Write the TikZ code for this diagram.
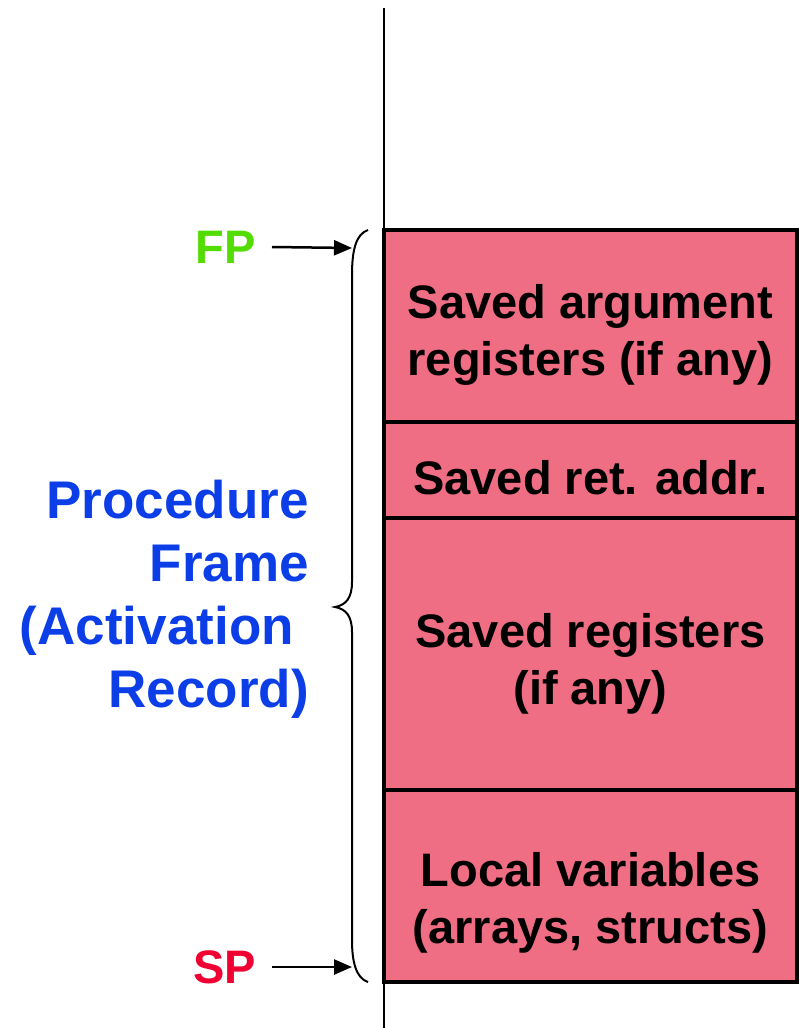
\documentclass[tikz,border=0pt]{standalone}
\usepackage{fontspec}
\setmainfont{Liberation Sans}
\usetikzlibrary{arrows.meta}
\definecolor{cellpink}{RGB}{240,110,132}
\definecolor{fpgreen}{RGB}{82,220,0}
\definecolor{spred}{RGB}{240,0,50}
\definecolor{lblblue}{RGB}{12,62,232}
\tikzset{
  cell/.style={draw=black, line width=4.5pt, fill=cellpink, minimum width=413pt, inner sep=0pt},
  celltext/.style={inner sep=0pt, align=center, font=\fontsize{47}{57}\selectfont\bfseries},
  ptr/.style={font=\fontsize{47}{57}\selectfont\bfseries, anchor=east, inner sep=0pt},
  ptrarrow/.style={line width=2.5pt, -{Triangle[length=18pt,width=15pt]}},
}
\begin{document}
\begin{tikzpicture}[x=1pt,y=-1pt]
\useasboundingbox (0,0) rectangle (799,1028);
\coordinate (ltop) at (384,8);
\coordinate (lbot) at (384,1028);
\draw[line width=2.5pt] (ltop) -- (lbot);
\node[cell, minimum height=192pt] (b1) at (590.5,326) {};
\node[cell, minimum height=96pt] (b2) at (590.5,470) {};
\node[cell, minimum height=272pt] (b3) at (590.5,654) {};
\node[cell, minimum height=192pt] (b4) at (590.5,886) {};
\node[celltext] (t1) at ([yshift=-9pt]b1.center) {Saved argument\\registers (if any)};
\node[celltext] (t2) at ([yshift=-8pt]b2.center) {Saved ret. addr.};
\node[celltext] (t3) at ([yshift=-10pt]b3.center) {Saved registers\\(if any)};
\node[celltext] (t4) at ([yshift=-17pt]b4.center) {Local variables\\(arrays, structs)};
% brace
\draw[line width=2pt] (368,230) .. controls (356,234) and (352,250) .. (352,275) -- (352,582)
  .. controls (352,598) and (346,605) .. (335,607) .. controls (346,609) and (352,616) .. (352,632)
  -- (352,940) .. controls (352,962) and (356,978) .. (368,982);
\node[ptr, text=fpgreen] (fp) at (256,247) {FP};
\node[ptr, text=spred] (sp) at (256,967) {SP};
\coordinate (fpend) at (352,248);
\coordinate (spend) at (352,967);
\path (fp.east) ++(16,0) coordinate (fpstart);
\path (sp.east) ++(16,0) coordinate (spstart);
\draw[ptrarrow] (fpstart) -- (fpend);
\draw[ptrarrow] (spstart) -- (spend);
\node[text=lblblue, anchor=east, align=right, inner sep=0pt,
  font=\fontsize{53}{63}\selectfont\bfseries] (pf) at (309,599)
  {Procedure\\Frame\\(Activation\kern15pt\\Record)};
\end{tikzpicture}
\end{document}
